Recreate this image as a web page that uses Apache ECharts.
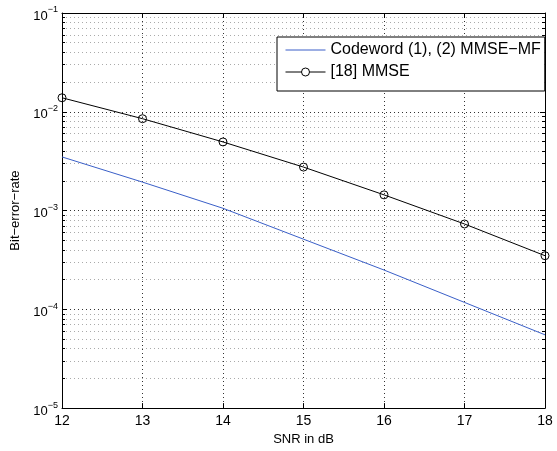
<!DOCTYPE html>
<html>
<head>
<meta charset="utf-8">
<script src="https://cdn.jsdelivr.net/npm/echarts@6/dist/echarts.min.js"></script>
<style>
html,body{margin:0;padding:0;background:#fff;}
#chart{width:557px;height:451px;}
</style>
</head>
<body>
<div id="chart"></div>
<script>
var snr = [12, 13, 14, 15, 16, 17, 18];
var berProposed = [3.49e-3, 1.94e-3, 1.054e-3, 5.13e-4, 2.5e-4, 1.175e-4, 5.52e-5];
var berRef18 = [1.386e-2, 8.51e-3, 4.95e-3, 2.754e-3, 1.442e-3, 7.31e-4, 3.49e-4];
var seriesNames = ['Codeword (1), (2) MMSE\u2212MF', '[18] MMSE'];
var xTitle = 'SNR in dB';
var yTitle = 'Bit\u2212error\u2212rate';

var FONT = '"Liberation Sans", Arial, Helvetica, sans-serif';

function pairs(xs, ys) { return xs.map(function (x, i) { return [x, ys[i]]; }); }

function yLabel(v) {
  var e = Math.round(Math.log10(v));
  return '{b|10}{s|' + (e < 0 ? '\u2212' + (-e) : e) + '}';
}

var chart = echarts.init(document.getElementById('chart'), null, {renderer: 'canvas'});

var majorGrid = {show: true, lineStyle: {color: '#333', type: [1, 3], width: 1}};
var minorGrid = {show: true, lineStyle: {color: '#aaa', type: [1, 3], width: 1}};

chart.setOption({
  animation: false,
  backgroundColor: '#fff',
  grid: {left: 62, right: 12, top: 13, bottom: 35, containLabel: false},
  legend: {
    orient: 'vertical',
    left: 277, top: 37,
    data: [
      {name: seriesNames[0], itemStyle: {color: 'rgba(0,0,0,0)', borderWidth: 0, opacity: 0}},
      {name: seriesNames[1], itemStyle: {color: '#fff', borderColor: '#000', borderWidth: 1}}
    ],
    itemWidth: 40, itemHeight: 10, itemGap: 6,
    padding: [5, 4, 11, 8],
    backgroundColor: '#fff',
    borderColor: '#000', borderWidth: 1,
    lineStyle: {width: 1},
    textStyle: {fontFamily: FONT, fontSize: 16, color: '#000'}
  },
  xAxis: [{
    type: 'value', min: 12, max: 18, interval: 1,
    name: xTitle, nameLocation: 'middle', nameGap: 21,
    nameTextStyle: {fontFamily: FONT, fontSize: 13, color: '#000'},
    axisLine: {show: true, lineStyle: {color: '#000', width: 1}},
    axisTick: {show: true, inside: true, length: 5, lineStyle: {color: '#000'}},
    axisLabel: {fontFamily: FONT, fontSize: 14, color: '#000', margin: 6},
    splitLine: majorGrid
  }, {
    type: 'value', min: 12, max: 18, interval: 1, position: 'top',
    axisLine: {show: true, onZero: false, lineStyle: {color: '#000', width: 1}},
    axisTick: {show: true, inside: true, length: 5, lineStyle: {color: '#000'}},
    axisLabel: {show: false}, splitLine: {show: false}
  }],
  yAxis: [{
    type: 'log', logBase: 10, min: 1e-5, max: 1e-1, interval: 1,
    name: yTitle, nameLocation: 'middle', nameGap: 31,
    nameTextStyle: {fontFamily: FONT, fontSize: 13, color: '#000'},
    axisLine: {show: true, onZero: false, lineStyle: {color: '#000', width: 1}},
    axisTick: {show: true, inside: true, length: 5, lineStyle: {color: '#000'}},
    minorTick: {show: true, splitNumber: 9, length: 3, lineStyle: {color: '#000'}},
    axisLabel: {
      margin: 4, color: '#000',
      formatter: yLabel,
      rich: {
        b: {fontFamily: FONT, fontSize: 13, color: '#000', padding: [6, 0, 0, 0]},
        s: {fontFamily: FONT, fontSize: 9, color: '#000', padding: [0, 0, 6, 0]}
      }
    },
    splitLine: majorGrid,
    minorSplitLine: minorGrid
  }, {
    type: 'log', logBase: 10, min: 1e-5, max: 1e-1, interval: 1, position: 'right',
    axisLine: {show: true, onZero: false, lineStyle: {color: '#000', width: 1}},
    axisTick: {show: true, inside: true, length: 5, lineStyle: {color: '#000'}},
    minorTick: {show: true, splitNumber: 9, length: 3, lineStyle: {color: '#000'}},
    axisLabel: {show: false}, splitLine: {show: false}
  }],
  series: [{
    name: seriesNames[0], type: 'line',
    data: pairs(snr, berProposed),
    symbol: 'none', showSymbol: false,
    lineStyle: {color: '#3a5fc8', width: 1},
    itemStyle: {color: '#3a5fc8'}
  }, {
    name: seriesNames[1], type: 'line',
    data: pairs(snr, berRef18),
    symbol: 'circle', symbolSize: 8,
    lineStyle: {color: '#000', width: 1},
    itemStyle: {color: 'rgba(0,0,0,0)', borderColor: '#000', borderWidth: 1}
  }]
});
</script>
</body>
</html>
